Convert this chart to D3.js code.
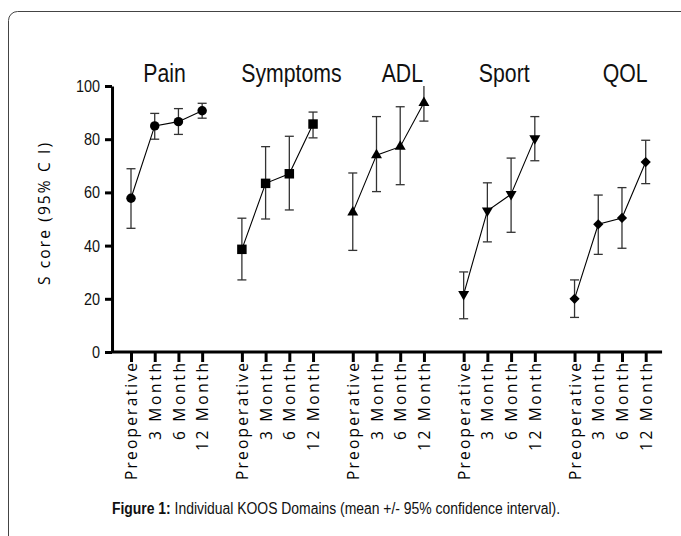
<!DOCTYPE html>
<html>
<head>
<meta charset="utf-8">
<script src="https://cdn.jsdelivr.net/npm/d3@7"></script>
<style>
  body { margin: 0; background: #fff; }
  svg { display: block; }
</style>
</head>
<body>
<div id="chart"></div>
<script>
// KOOS domains, mean +/- 95% CI

const domains = ["Pain", "Symptoms", "ADL", "Sport", "QOL"];
const timepoints = ["Preoperative", "3 Month", "6 Month", "12 Month"];

// one row per domain, one value per timepoint
const means = [
    [57.8, 85.0, 86.6, 90.7],
    [38.6, 63.4, 67.0, 85.7],
    [52.5, 74.0, 77.2, 93.7],
    [21.7, 53.1, 59.3, 80.3],
    [20.0, 48.0, 50.4, 71.4]
];
const lowerCI = [
    [46.5, 80.0, 81.8, 87.9],
    [27.1, 50.0, 53.4, 80.5],
    [38.2, 60.3, 62.9, 86.8],
    [12.5, 41.4, 45.0, 71.9],
    [13.0, 36.7, 39.0, 63.3]
];
const upperCI = [
    [68.9, 89.7, 91.5, 93.5],
    [50.3, 77.2, 81.1, 90.2],
    [67.3, 88.5, 92.2, 101.0],
    [30.1, 63.6, 72.9, 88.5],
    [27.1, 59.0, 61.8, 79.6]
];
const yTicks = [0, 20, 40, 60, 80, 100];

const W = 681, H = 536;
const groupStep = 4.675;               // slots per domain (4 points + gap)
const titleShift = [-2, 14, 14, 5, 15]; // titles sit a bit right of group centre
const narrow = 0.85;                    // fake a condensed Helvetica
const sans = "'Liberation Sans', Arial, sans-serif";
const wide = "'Open Sans', 'Noto Sans', sans-serif";

const svg = d3.select("#chart").append("svg")
    .attr("width", W)
    .attr("height", H);

// page frame (rounded, runs off right and bottom)
svg.append("rect")
    .attr("x", 8.5).attr("y", 11.5)
    .attr("width", 720).attr("height", 600)
    .attr("rx", 9)
    .attr("fill", "none")
    .attr("stroke", "#444")
    .attr("stroke-width", 1);

const slot = (g, j) => g * groupStep + j;
const lastSlot = slot(domains.length - 1, 3);

const x = d3.scaleLinear()
    .domain([0, lastSlot])
    .range([131, 645.7]);

const y = d3.scaleLinear()
    .domain([0, 100])
    .range([352, 86]);

const xLeft = x(-0.8), xRight = x(lastSlot + 0.69);

// ---- Y axis
const yAxis = svg.append("g")
    .attr("transform", `translate(${xLeft},0)`)
    .call(d3.axisLeft(y).tickValues(yTicks).tickSize(7).tickPadding(3).tickSizeOuter(0));

yAxis.select(".domain").attr("stroke", "#000").attr("stroke-width", 3);
yAxis.selectAll(".tick line").attr("stroke", "#000").attr("stroke-width", 3);
yAxis.selectAll(".tick text")
    .attr("x", -12 / narrow)
    .attr("transform", `scale(${narrow},1)`)
    .attr("fill", "#111")
    .style("font-family", sans)
    .style("font-size", "17px");

// ---- X axis
const tickData = [];
domains.forEach((d, g) => timepoints.forEach((t, j) => tickData.push({ s: slot(g, j), label: t })));

const xAxis = svg.append("g")
    .attr("transform", `translate(0,${y(0)})`)
    .call(d3.axisBottom(x)
        .tickValues(tickData.map(d => d.s))
        .tickFormat((d, i) => tickData[i].label)
        .tickSize(10)
        .tickSizeOuter(0));

xAxis.select(".domain")
    .attr("d", `M${xLeft},0H${xRight}`)
    .attr("stroke", "#000").attr("stroke-width", 3);
xAxis.selectAll(".tick line").attr("stroke", "#000").attr("stroke-width", 3);

const labelLength = { "Preoperative": 117, "3 Month": 77, "6 Month": 77, "12 Month": 88 };
xAxis.selectAll(".tick text")
    .attr("transform", "rotate(-90)")
    .attr("x", -11)
    .attr("y", 0)
    .attr("dy", "0.36em")
    .attr("text-anchor", "end")
    .attr("textLength", d => labelLength[tickData.find(t => t.s === d).label])
    .attr("lengthAdjust", "spacing")
    .attr("fill", "#000")
    .style("font-family", wide)
    .style("font-size", "15.5px");

// ---- Y axis title
svg.append("text")
    .attr("transform", "translate(50,214) rotate(-90)")
    .attr("text-anchor", "middle")
    .attr("textLength", 142)
    .attr("lengthAdjust", "spacing")
    .style("font-family", wide)
    .style("font-size", "15.5px")
    .attr("fill", "#000")
    .text("S core (95% C I)");

// ---- domain titles
svg.selectAll(".domain-title")
    .data(domains)
    .enter().append("text")
    .attr("class", "domain-title")
    .attr("transform", (d, g) =>
        `translate(${(x(slot(g, 0)) + x(slot(g, 3))) / 2 + titleShift[g]},81.5) scale(${narrow},1)`)
    .attr("text-anchor", "middle")
    .style("font-family", sans)
    .style("font-size", "25px")
    .attr("fill", "#111")
    .text(d => d);

// ---- series
const symbols = [
    d3.symbol().type(d3.symbolCircle).size(70),
    d3.symbol().type(d3.symbolSquare).size(90),
    d3.symbol().type(d3.symbolTriangle).size(52),
    d3.symbol().type(d3.symbolTriangle).size(52),
    d3.symbol().type(d3.symbolSquare).size(52)
];
const symbolRotate = [0, 0, 0, 180, 45];

const line = d3.line()
    .x(d => x(d.s))
    .y(d => y(d.m));

domains.forEach((name, g) => {
    const pts = timepoints.map((t, j) => ({
        s: slot(g, j),
        m: means[g][j],
        lo: lowerCI[g][j],
        hi: upperCI[g][j]
    }));

    const grp = svg.append("g").attr("class", "series");

    // error bars
    pts.forEach(p => {
        const top = Math.min(p.hi, 100);
        const cx = x(p.s);
        grp.append("line")
            .attr("x1", cx).attr("x2", cx)
            .attr("y1", y(p.lo)).attr("y2", y(top))
            .attr("stroke", "#333").attr("stroke-width", 1.3);
        grp.append("line")
            .attr("x1", cx - 4.5).attr("x2", cx + 4.5)
            .attr("y1", y(p.lo)).attr("y2", y(p.lo))
            .attr("stroke", "#333").attr("stroke-width", 1.3);
        if (p.hi <= 100) {
            grp.append("line")
                .attr("x1", cx - 4.5).attr("x2", cx + 4.5)
                .attr("y1", y(p.hi)).attr("y2", y(p.hi))
                .attr("stroke", "#333").attr("stroke-width", 1.3);
        }
    });

    grp.append("path")
        .datum(pts)
        .attr("d", line)
        .attr("fill", "none")
        .attr("stroke", "#000")
        .attr("stroke-width", 1.1);

    grp.selectAll(".marker")
        .data(pts)
        .enter().append("path")
        .attr("class", "marker")
        .attr("d", symbols[g])
        .attr("transform", d => `translate(${x(d.s)},${y(d.m)}) rotate(${symbolRotate[g]})`)
        .attr("fill", "#000");
});

// ---- caption
const caption = svg.append("text")
    .attr("transform", `translate(336,514) scale(0.87,1)`)
    .attr("text-anchor", "middle")
    .style("font-family", sans)
    .style("font-size", "16px")
    .attr("fill", "#111");
caption.append("tspan").style("font-weight", "bold").text("Figure 1:");
caption.append("tspan").text(" Individual KOOS Domains (mean +/- 95% confidence interval).");
</script>
</body>
</html>
